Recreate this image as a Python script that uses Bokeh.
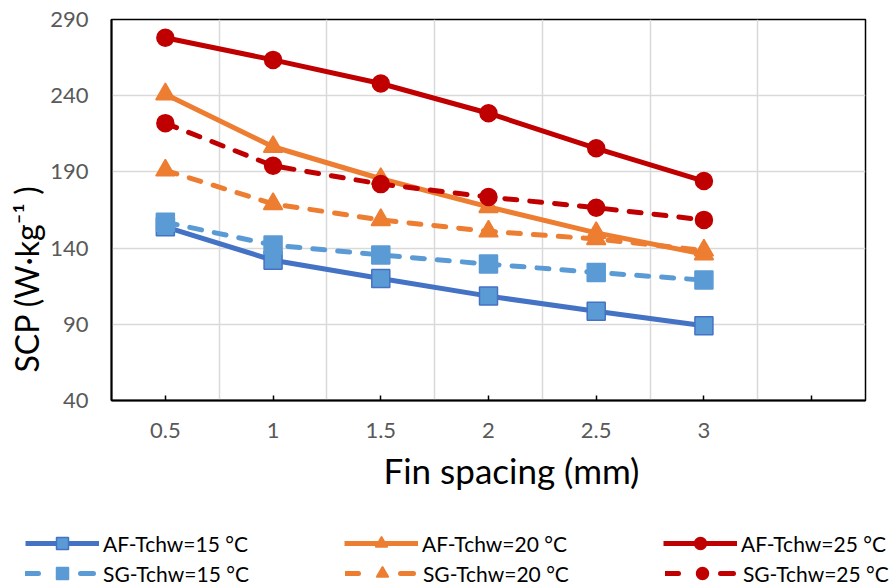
from bokeh.plotting import figure
from bokeh.models import Range1d, FixedTicker, Legend, LegendItem, Title
from bokeh.layouts import column, row
from bokeh.embed import file_html
from bokeh.resources import INLINE

fin_spacing = [0.5, 1, 1.5, 2, 2.5, 3]
af_15 = [154, 132, 120, 108.5, 98.5, 89]
af_20 = [241, 206.5, 185.5, 167, 150, 136]
af_25 = [278, 263.5, 248, 228.5, 205.5, 184]
sg_15 = [157, 142, 135.5, 129.5, 124, 119]
sg_20 = [191, 169, 158.5, 151, 146, 138.5]
sg_25 = [222, 194, 182, 173.5, 166.5, 158.5]
x_ticks = [0.5, 1, 1.5, 2, 2.5, 3, 3.5]
x_tick_labels = ["0.5", "1", "1.5", "2", "2.5", "3", ""]
y_ticks = [40, 90, 140, 190, 240, 290]
series_names = ["AF-Tchw=15 °C", "AF-Tchw=20 °C", "AF-Tchw=25 °C",
                "SG-Tchw=15 °C", "SG-Tchw=20 °C", "SG-Tchw=25 °C"]
x_title = "Fin spacing (mm)"
y_title = "SCP (W·kg⁻¹ )"

FONT = "Lato"
BLUE_D = "#4472C4"
BLUE_L = "#5B9BD5"
ORANGE = "#ED7D31"
RED = "#C00000"

p = figure(width=895, height=520, output_backend="svg", toolbar_location=None,
           x_range=Range1d(0.25, 3.75), y_range=Range1d(40, 290))
p.min_border_left = 111
p.min_border_right = 30
p.min_border_top = 19
p.min_border_bottom = 120
p.outline_line_color = "black"
p.outline_line_width = 1.5
p.background_fill_color = "white"
p.border_fill_color = "white"

xa = p.xaxis[0]
xa.ticker = FixedTicker(ticks=x_ticks)
xa.major_label_overrides = {t: l for t, l in zip(x_ticks, x_tick_labels)}
xa.major_tick_in = 5
xa.major_tick_out = 0
xa.minor_tick_in = 0
xa.minor_tick_out = 0
xa.axis_line_color = "black"
xa.axis_line_width = 2
xa.major_tick_line_color = "black"
xa.major_tick_line_width = 1.5
xa.major_label_text_font = FONT
xa.major_label_text_font_size = "22px"
xa.major_label_text_color = "#595959"
xa.major_label_standoff = 22

ya = p.yaxis[0]
ya.ticker = FixedTicker(ticks=y_ticks)
ya.major_tick_in = 0
ya.major_tick_out = 0
ya.minor_tick_in = 0
ya.minor_tick_out = 0
ya.axis_line_color = "black"
ya.axis_line_width = 2
ya.major_label_text_font = FONT
ya.major_label_text_font_size = "22px"
ya.major_label_text_color = "#595959"
ya.major_label_standoff = 23

xt = Title(text=x_title, align="left", offset=272, standoff=12,
           text_font=FONT, text_font_size="35px", text_font_style="normal",
           text_color="black")
p.add_layout(xt, "below")
yt = Title(text=y_title, align="left", offset=28, standoff=4,
           text_font=FONT, text_font_size="32px", text_font_style="normal",
           text_color="black")
p.add_layout(yt, "left")

p.xgrid.ticker = FixedTicker(ticks=[0.75, 1.25, 1.75, 2.25, 2.75, 3.25])
p.ygrid.ticker = FixedTicker(ticks=y_ticks)
p.xgrid.grid_line_color = "#D9D9D9"
p.ygrid.grid_line_color = "#D9D9D9"
p.xgrid.grid_line_width = 1.5
p.ygrid.grid_line_width = 1.5

LW = 5
DASH = "12 13"

styles = [
    (BLUE_D, "square", 18, BLUE_L, BLUE_D, False),
    (ORANGE, "triangle", 19, ORANGE, ORANGE, False),
    (RED, "circle", 17, RED, RED, False),
    (BLUE_L, "square", 18, BLUE_L, BLUE_L, True),
    (ORANGE, "triangle", 19, ORANGE, ORANGE, True),
    (RED, "circle", 17, RED, RED, True),
]
data = [af_15, af_20, af_25, sg_15, sg_20, sg_25]

def series(fig, xs, ys, style, dash=DASH):
    color, marker, size, fill, mline, dashed = style
    kw = dict(line_color=color, line_width=LW, line_cap="round" if dashed else "butt",
              line_join="round")
    if dashed:
        kw["line_dash"] = dash
    l = fig.line(xs, ys, **kw)
    s = fig.scatter(xs, ys, marker=marker, size=size, fill_color=fill,
                    line_color=mline, line_width=1.5)
    return [l, s]

for ys, st in zip(data, styles):
    series(p, fin_spacing, ys, st)

# legend-only strip below the chart; its ranges keep the copied series out of view
lf = figure(width=895, height=64, output_backend="svg", toolbar_location=None,
            x_range=Range1d(100, 101), y_range=Range1d(1000, 1001),
            x_axis_location=None, y_axis_location=None)
lf.min_border_left = 0
lf.min_border_right = 0
lf.min_border_top = 0
lf.min_border_bottom = 0
lf.outline_line_color = None
lf.grid.visible = False
lf.background_fill_color = "white"
lf.border_fill_color = "white"

leg_renderers = []
for ys, st in zip(data, styles):
    leg_renderers.append(series(lf, fin_spacing, ys, st, dash="13 42"))

def make_legend(idx, y):
    items = [LegendItem(label=series_names[i], renderers=leg_renderers[i]) for i in idx]
    lg = Legend(items=items, orientation="horizontal", location=(25, y))
    lg.glyph_width = 74
    lg.glyph_height = 30
    lg.label_standoff = 4
    lg.spacing = 96
    lg.padding = 0
    lg.margin = 0
    lg.border_line_color = None
    lg.background_fill_alpha = 0
    lg.label_text_font = FONT
    lg.label_text_font_size = "21px"
    lg.label_text_color = "black"
    return lg

lf.add_layout(make_legend([0, 1, 2], 26), "center")
lf.add_layout(make_legend([3, 4, 5], -4), "center")

layout = column(p, row(lf), spacing=0)
open("out.html", "w").write(file_html(layout, INLINE))
